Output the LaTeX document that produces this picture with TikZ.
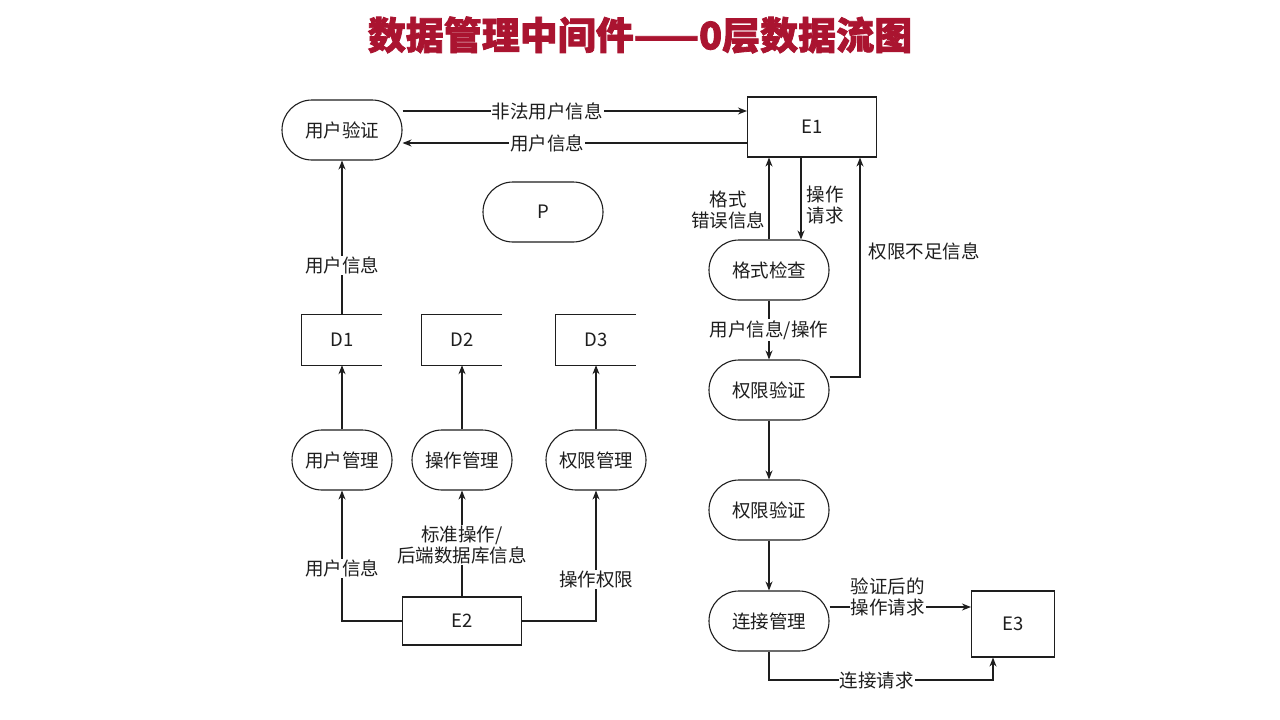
\documentclass[tikz,border=0pt]{standalone}
\usepackage{fontspec}
\setmainfont{Noto Sans CJK SC}
\newfontfamily\titlefont[FakeBold=2]{Noto Sans CJK SC}
\usetikzlibrary{arrows.meta}
\definecolor{titlered}{RGB}{170,20,48}
\definecolor{ink}{RGB}{30,30,30}
\begin{document}
\begin{tikzpicture}[x=1pt,y=-1pt,
  every node/.style={font=\fontsize{18.5}{21}\selectfont, text=ink},
  proc/.style={draw=ink, line width=1.1pt, rounded corners=30pt, minimum width=120pt, minimum height=60pt, inner sep=0pt},
  proc100/.style={proc, minimum width=100pt},
  ent/.style={draw=ink, line width=1.1pt, minimum width=129pt, minimum height=60pt, inner sep=0pt},
  store/.style={minimum width=80pt, minimum height=50pt, inner sep=0pt},
  lbl/.style={fill=white, inner sep=1pt, align=center},
  arr/.style={draw=ink, line width=1.1pt, -{Stealth[length=9pt,width=7pt]}}]
\useasboundingbox (0,0) rectangle (1280,720);
\fill[white] (0,0) rectangle (1280,720);

% title
\node[font=\fontsize{38}{42}\titlefont\bfseries, text=titlered] (title) at (640,35) {数据管理中间件——0层数据流图};

% nodes
\node[proc] (uv) at (342,130) {用户验证};
\node[ent] (e1) at (812,127) {E1};
\node[proc] (p) at (543,212) {P};
\node[store] (d1) at (342,340) {D1};
\node[store] (d2) at (462,340) {D2};
\node[store] (d3) at (596,340) {D3};
\foreach \d in {d1,d2,d3}
  \draw[ink, line width=1.1pt] (\d.north east) -- (\d.north west) -- (\d.south west) -- (\d.south east);
\node[proc100] (um) at (342,460) {用户管理};
\node[proc100] (om) at (462,460) {操作管理};
\node[proc100] (pm) at (596,460) {权限管理};
\node[ent, minimum width=119pt, minimum height=48pt] (e2) at (462,621) {E2};

\node[proc] (fc) at (769,270) {格式检查};
\node[proc] (pv1) at (769,390) {权限验证};
\node[proc] (pv2) at (769,510) {权限验证};
\node[proc] (cm) at (769,621) {连接管理};
\node[ent, minimum width=83pt, minimum height=66pt] (e3) at (1013,624) {E3};

% top edges
\coordinate (a1) at ([yshift=16pt]e1.west);
\coordinate (a2) at ([yshift=-16pt]e1.west);
\draw[arr] (uv.east |- a1) -- node[lbl, pos=0.42]{非法用户信息} (a1);
\draw[arr] (a2) -- node[lbl, pos=0.58]{用户信息} (uv.east |- a2);

% D1 -> uv
\draw[arr] (d1.north) -- node[lbl, pos=0.32]{用户信息} (uv.south);
% managers -> stores
\draw[arr] (um.north) -- (d1.south);
\draw[arr] (om.north) -- (d2.south);
\draw[arr] (pm.north) -- (d3.south);
% E2 -> managers
\draw[arr] (e2.west) -| node[lbl, pos=0.7]{用户信息} (um.south);
\draw[arr] (e2.north) -- node[lbl, pos=0.49]{标准操作/\\后端数据库信息} (om.south);
\draw[arr] (e2.east) -| node[lbl, pos=0.66]{操作权限} (pm.south);

% right column
\coordinate (xr) at ([xshift=32pt]fc.north);
\coordinate (xk) at (860,157);
\draw[arr] (fc.north) -- (fc.north |- e1.south);
\node[align=center] (l1) at (728,210) {格式\\错误信息};
\draw[arr] (e1.south -| xr) -- (fc.north -| xr);
\node[align=left, anchor=west] (l2) at (803,205) {操作\\请求};
\draw[arr] (fc.south) -- node[lbl]{用户信息/操作} (pv1.north);
\draw[arr] ([yshift=13pt]pv1.east) -| (e1.south -| xk);
\node[anchor=west] (l3) at (865,251) {权限不足信息};
\draw[arr] (pv1.south) -- (pv2.north);
\draw[arr] (pv2.south) -- (cm.north);
\coordinate (c1) at ([yshift=14pt]cm.east);
\draw[arr] (c1) -- node[lbl, align=left, pos=0.41, yshift=10pt]{验证后的\\操作请求} (e3.west |- c1);
\coordinate (c2) at (769,680);
\coordinate (xe) at (993,657);
\draw[arr] (cm.south) -- (c2) -| node[lbl, pos=0.24]{连接请求} (e3.south -| xe);
\end{tikzpicture}
\end{document}
